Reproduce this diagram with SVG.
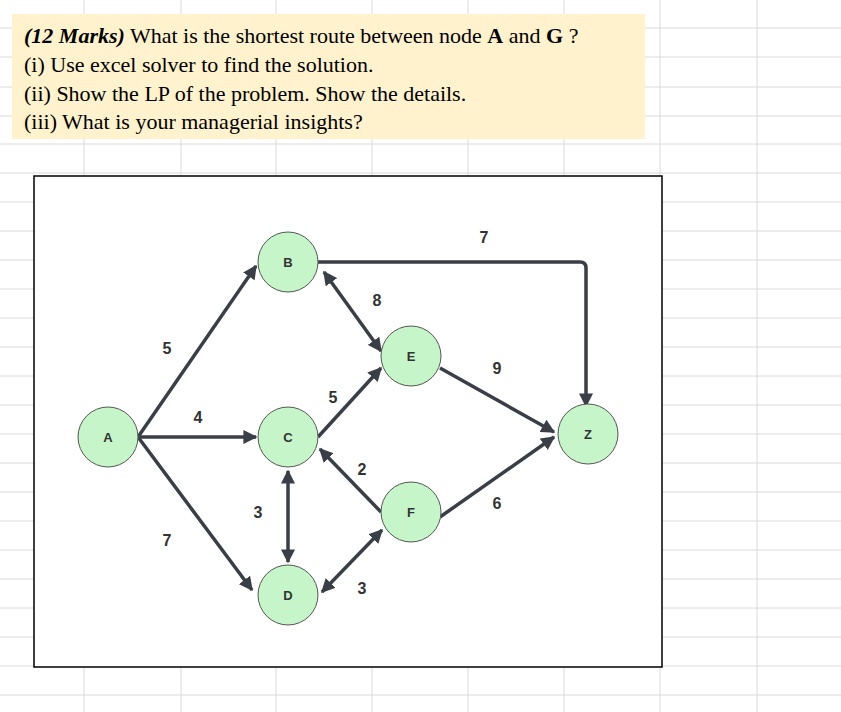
<svg xmlns="http://www.w3.org/2000/svg" width="841" height="712" viewBox="0 0 841 712">
<style>
.g{stroke:#dadada;stroke-width:1}
.e{stroke:#3a3f47;stroke-width:3.5;fill:none}
.n{fill:#c5f5c8;stroke:#555;stroke-width:1}
.nl{font-family:"Liberation Sans",Arial,sans-serif;font-weight:bold;font-size:13px;fill:#333;text-anchor:middle}
.el{font-family:"Liberation Sans",Arial,sans-serif;font-weight:bold;font-size:16px;fill:#333;text-anchor:middle}
.q{font-family:"Liberation Serif","Times New Roman",serif;font-size:22px;fill:#000}
</style>
<defs>
<marker id="ah" viewBox="0 0 10 10" refX="9" refY="5" markerWidth="4" markerHeight="4" orient="auto-start-reverse" markerUnits="strokeWidth">
<path d="M0,0 L10,5 L0,10 z" fill="#3a3f47"/>
</marker>
</defs>
<rect width="841" height="712" fill="#fff"/>
<g id="grid">
<path class="g" d="M84,0V712M181,0V712M276,0V712M372,0V712M468,0V712M564,0V712M660,0V712M757,0V712"/>
<path class="g" d="M0,28H841M0,57H841M0,87H841M0,116H841M0,144H841M0,173H841M0,202H841M0,231H841M0,260H841M0,289H841M0,318H841M0,347H841M0,376H841M0,405H841M0,434H841M0,463H841M0,492H841M0,521H841M0,550H841M0,579H841M0,608H841M0,637H841M0,666H841M0,695H841"/>
</g>
<g id="question">
<rect x="12" y="14" width="633" height="125" fill="#fff2cc"/>
<text class="q" x="24" y="43"><tspan font-style="italic" font-weight="bold">(12 Marks)</tspan> What is the shortest route between node <tspan font-weight="bold">A</tspan> and <tspan font-weight="bold">G</tspan> ?</text>
<text class="q" x="24" y="72">(i) Use excel solver to find the solution.</text>
<text class="q" x="24" y="101">(ii) Show the LP of the problem. Show the details.</text>
<text class="q" x="24" y="129">(iii) What is your managerial insights?</text>
</g>
<rect x="34" y="176" width="628" height="491" fill="#fff" stroke="#000" stroke-width="1.5"/>
<g id="connectors">
<line class="e" x1="138" y1="437" x2="256" y2="266" marker-end="url(#ah)"/>
<line class="e" x1="138" y1="437" x2="256" y2="437" marker-end="url(#ah)"/>
<line class="e" x1="138" y1="437" x2="252" y2="590" marker-end="url(#ah)"/>
<line class="e" x1="324" y1="272" x2="381" y2="351" marker-start="url(#ah)" marker-end="url(#ah)"/>
<line class="e" x1="318" y1="437" x2="381" y2="368" marker-end="url(#ah)"/>
<line class="e" x1="381" y1="512" x2="320" y2="449" marker-end="url(#ah)"/>
<line class="e" x1="288" y1="471" x2="288" y2="562" marker-start="url(#ah)" marker-end="url(#ah)"/>
<line class="e" x1="322" y1="592" x2="382" y2="530" marker-start="url(#ah)" marker-end="url(#ah)"/>
<line class="e" x1="440" y1="368" x2="554" y2="432" marker-end="url(#ah)"/>
<line class="e" x1="440" y1="517" x2="554" y2="437" marker-end="url(#ah)"/>
<path class="e" d="M318,262 H580 Q586,262 586,268 V406" marker-end="url(#ah)"/>
</g>
<g id="edge-labels">
<text class="el" x="167" y="354">5</text>
<text class="el" x="198" y="423">4</text>
<text class="el" x="167" y="546">7</text>
<text class="el" x="377" y="306">8</text>
<text class="el" x="333" y="403">5</text>
<text class="el" x="362" y="475">2</text>
<text class="el" x="258" y="518">3</text>
<text class="el" x="362" y="594">3</text>
<text class="el" x="484" y="243">7</text>
<text class="el" x="497" y="374">9</text>
<text class="el" x="497" y="509">6</text>
</g>
<g id="node-A"><circle class="n" cx="108" cy="437" r="30"/><text class="nl" x="108" y="442">A</text></g>
<g id="node-B"><circle class="n" cx="288" cy="262" r="30"/><text class="nl" x="288" y="267">B</text></g>
<g id="node-C"><circle class="n" cx="288" cy="437" r="30"/><text class="nl" x="288" y="442">C</text></g>
<g id="node-D"><circle class="n" cx="288" cy="595" r="30"/><text class="nl" x="288" y="600">D</text></g>
<g id="node-E"><circle class="n" cx="411" cy="356" r="30"/><text class="nl" x="411" y="361">E</text></g>
<g id="node-F"><circle class="n" cx="411" cy="512" r="30"/><text class="nl" x="411" y="517">F</text></g>
<g id="node-Z"><circle class="n" cx="588" cy="434" r="30"/><text class="nl" x="588" y="439">Z</text></g>
</svg>
